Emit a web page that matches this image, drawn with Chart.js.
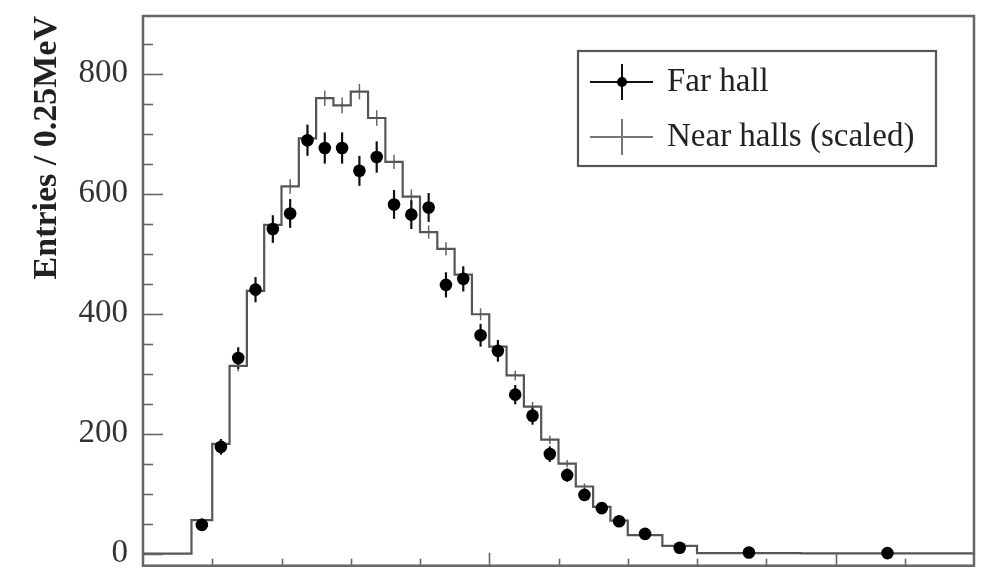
<!DOCTYPE html>
<html>
<head>
<meta charset="utf-8">
<script src="https://cdn.jsdelivr.net/npm/chart.js@4.4.1/dist/chart.umd.min.js"></script>
<style>
  html, body { margin: 0; padding: 0; background: #ffffff; }
  #wrap { width: 985px; height: 572px; }
</style>
</head>
<body>
<div id="wrap"><canvas id="spectrum" width="985" height="572"></canvas></div>
<script>
// Prompt-energy bin edges (MeV): 0.25 MeV bins, wider bins in the tail
const binEdges = [0.7, 1.0, 1.25, 1.5, 1.75, 2.0, 2.25, 2.5, 2.75, 3.0, 3.25, 3.5, 3.75,
                  4.0, 4.25, 4.5, 4.75, 5.0, 5.25, 5.5, 5.75, 6.0, 6.25, 6.5, 6.75, 7.0,
                  7.5, 8.0, 9.5, 12.0];

// Far hall: entries / 0.25 MeV and statistical errors
const farHall = [48, 178, 326, 440, 541, 567, 689, 676, 676, 638, 661, 582, 565, 577,
                 448, 458, 364, 338, 265, 230, 166, 131, 98, 76, 54, 33, 10, 2, 1];
const farErr  = [7, 13, 18, 21, 23, 24, 26, 26, 26, 25, 26, 24, 24, 24,
                 21, 21, 19, 18, 16, 15, 13, 11, 10, 9, 7, 4, 2, 1, 1];

// Near halls, scaled to the far hall exposure
const nearHalls = [56, 183, 313, 438, 548, 612, 692, 759, 747, 770, 726, 653, 595, 536,
                   508, 465, 399, 345, 297, 245, 190, 150, 112, 78, 55, 31, 13, 1, 0.5];
const nearErr   = [4, 7, 9, 10, 11, 12, 12, 13, 13, 13, 13, 12, 12, 11,
                   11, 10, 10, 9, 8, 8, 7, 6, 5, 4, 4, 3, 2, 1, 1];

// Axis ticks
const yTickValues = [0, 200, 400, 600, 800];
const yTickLabels = ['0', '200', '400', '600', '800'];
const yMinorStep = 50;
const xMajorTicks = [0, 5, 10];
const xMinorStep = 1;

const binCenters = binEdges.slice(0, -1).map((e, i) => (e + binEdges[i + 1]) / 2);
const farPoints = binCenters.map((x, i) => ({ x: x, y: farHall[i] }));
const nearSteps = [{ x: 0, y: 0 }]
  .concat(nearHalls.map((v, i) => ({ x: binEdges[i], y: v })))
  .concat([{ x: binEdges[binEdges.length - 1], y: nearHalls[nearHalls.length - 1] }]);

const SERIF = "'Liberation Serif', 'DejaVu Serif', serif";

// Error bars drawn through the chart scales
const errorBars = {
  id: 'errorBars',
  beforeDatasetsDraw(chart) {
    const { ctx, scales: { x, y } } = chart;
    ctx.save();
    ctx.lineCap = 'butt';
    ctx.strokeStyle = '#666666';
    ctx.lineWidth = 1.5;
    binCenters.forEach((c, i) => {
      const px = x.getPixelForValue(c);
      ctx.beginPath();
      ctx.moveTo(px, y.getPixelForValue(nearHalls[i] - nearErr[i]));
      ctx.lineTo(px, y.getPixelForValue(nearHalls[i] + nearErr[i]));
      ctx.stroke();
    });
    ctx.strokeStyle = '#111111';
    ctx.lineWidth = 2.2;
    binCenters.forEach((c, i) => {
      const px = x.getPixelForValue(c);
      ctx.beginPath();
      ctx.moveTo(px, y.getPixelForValue(farHall[i] - farErr[i]));
      ctx.lineTo(px, y.getPixelForValue(farHall[i] + farErr[i]));
      ctx.stroke();
    });
    ctx.restore();
  }
};

// Frame, inward tick marks and boxed legend
const frameAndLegend = {
  id: 'frameAndLegend',
  afterDraw(chart) {
    const { ctx, chartArea: a, scales: { x, y } } = chart;
    ctx.save();
    ctx.strokeStyle = '#666666';
    ctx.lineWidth = 1.6;
    // y ticks
    for (let v = 0; v <= y.max; v += yMinorStep) {
      const py = Math.round(y.getPixelForValue(v)) + 0.5;
      const len = yTickValues.includes(v) ? 20 : 10;
      ctx.beginPath();
      ctx.moveTo(a.left, py);
      ctx.lineTo(a.left + len, py);
      ctx.stroke();
    }
    // x ticks
    for (let v = x.min + xMinorStep; v < x.max; v += xMinorStep) {
      const px = Math.round(x.getPixelForValue(v)) + 0.5;
      const len = xMajorTicks.includes(v) ? 13 : 7;
      ctx.beginPath();
      ctx.moveTo(px, a.bottom);
      ctx.lineTo(px, a.bottom - len);
      ctx.stroke();
    }
    // frame
    ctx.lineWidth = 2.5;
    ctx.strokeRect(a.left, a.top, a.right - a.left, a.bottom - a.top);

    // legend box
    const lx = a.left + 435, ly = a.top + 35, lw = 358, lh = 115;
    ctx.fillStyle = '#ffffff';
    ctx.fillRect(lx, ly, lw, lh);
    ctx.strokeStyle = '#555555';
    ctx.lineWidth = 2.2;
    ctx.strokeRect(lx, ly, lw, lh);

    const sx0 = lx + 12, sx1 = lx + 75, sxm = lx + 44;
    const rows = [
      { ds: chart.data.datasets[0], yy: ly + 31, color: '#111111', marker: true },
      { ds: chart.data.datasets[1], yy: ly + 86, color: '#777777', marker: false }
    ];
    rows.forEach(r => {
      ctx.strokeStyle = r.color;
      ctx.lineWidth = 2;
      ctx.beginPath();
      ctx.moveTo(sx0, r.yy); ctx.lineTo(sx1, r.yy);
      ctx.moveTo(sxm, r.yy - 18); ctx.lineTo(sxm, r.yy + 18);
      ctx.stroke();
      if (r.marker) {
        ctx.fillStyle = '#000000';
        ctx.beginPath();
        ctx.arc(sxm, r.yy, 5, 0, Math.PI * 2);
        ctx.fill();
      }
      ctx.fillStyle = '#222222';
      ctx.font = '33px ' + SERIF;
      ctx.textAlign = 'left';
      ctx.textBaseline = 'middle';
      ctx.fillText(r.ds.label, lx + 89, r.yy);
    });
    ctx.restore();
  }
};

new Chart(document.getElementById('spectrum'), {
  type: 'line',
  data: {
    datasets: [
      {
        label: 'Far hall',
        data: farPoints,
        showLine: false,
        pointRadius: 6.3,
        pointHoverRadius: 6.3,
        pointBackgroundColor: '#000000',
        pointBorderWidth: 0,
        order: 0
      },
      {
        label: 'Near halls (scaled)',
        data: nearSteps,
        stepped: 'before',
        borderColor: '#555555',
        borderWidth: 2.2,
        pointRadius: 0,
        fill: false,
        order: 1
      }
    ]
  },
  options: {
    responsive: false,
    animation: false,
    devicePixelRatio: 1,
    layout: { padding: { top: 16, right: 11, bottom: 3, left: 0 } },
    plugins: { legend: { display: false }, tooltip: { enabled: false } },
    scales: {
      x: {
        type: 'linear',
        min: 0,
        max: 12,
        display: false
      },
      y: {
        type: 'linear',
        min: -20,
        max: 896,
        afterBuildTicks: s => { s.ticks = yTickValues.map(v => ({ value: v })); },
        afterFit: s => { s.width = 143; s.paddingTop = 0; s.paddingBottom = 0; },
        grid: { display: false, drawTicks: false },
        border: { display: false },
        ticks: {
          autoSkip: false,
          padding: 15,
          color: '#333333',
          font: { family: SERIF, size: 33 },
          callback: v => yTickLabels[yTickValues.indexOf(v)]
        },
        title: {
          display: true,
          text: 'Entries / 0.25MeV',
          align: 'end',
          color: '#222222',
          font: { family: SERIF, size: 34, weight: 'bold' },
          padding: { top: 27, bottom: 0 }
        }
      }
    }
  },
  plugins: [errorBars, frameAndLegend]
});
</script>
</body>
</html>
